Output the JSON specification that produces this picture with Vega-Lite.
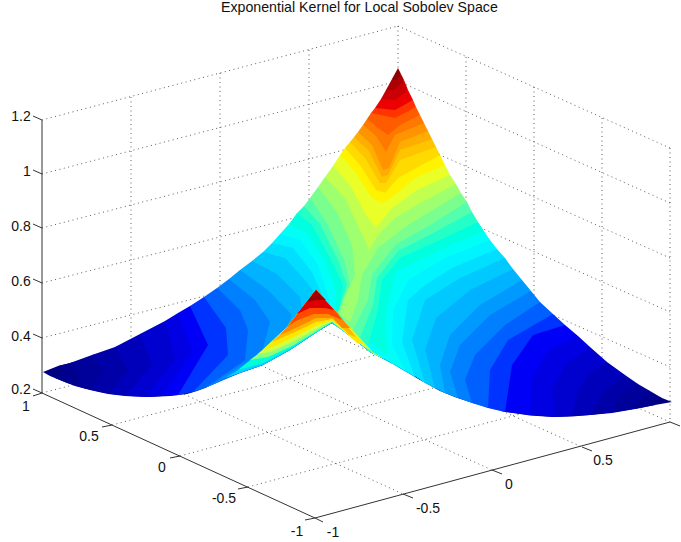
{"$schema":"https://vega.github.io/schema/vega-lite/v6.json","width":681,"height":542,"padding":0,"autosize":"none","background":"white","view":{"stroke":null},
"title":{"text":"Exponential Kernel for Local Sobolev Space","font":"Liberation Sans","fontSize":14.2,"fontWeight":"normal","color":"#111","anchor":"start","frame":"group","offset":-15,"dx":221},
"layer":[
{"data":{"values":[
{"x":42,"y":120,"x2":398,"y2":26},{"x":398,"y":26,"x2":670,"y2":148},
{"x":42,"y":174,"x2":398,"y2":81},{"x":398,"y":81,"x2":670,"y2":203},
{"x":42,"y":228,"x2":398,"y2":136},{"x":398,"y":136,"x2":670,"y2":258},
{"x":42,"y":283,"x2":398,"y2":191},{"x":398,"y":191,"x2":670,"y2":312},
{"x":42,"y":338,"x2":398,"y2":246},{"x":398,"y":246,"x2":670,"y2":367},
{"x":42,"y":393,"x2":398,"y2":301},{"x":398,"y":301,"x2":670,"y2":422},
{"x":131,"y":97,"x2":131,"y2":370},{"x":220,"y":73,"x2":220,"y2":347},{"x":309,"y":50,"x2":309,"y2":324},{"x":398,"y":26,"x2":398,"y2":301},
{"x":466,"y":57,"x2":466,"y2":331},{"x":534,"y":87,"x2":534,"y2":361},{"x":602,"y":118,"x2":602,"y2":392},{"x":670,"y":148,"x2":670,"y2":422},
{"x":112,"y":425,"x2":466,"y2":331},{"x":180,"y":456,"x2":534,"y2":361},{"x":248,"y":487,"x2":602,"y2":392},
{"x":131,"y":370,"x2":403,"y2":494},{"x":220,"y":347,"x2":492,"y2":470},{"x":309,"y":324,"x2":582,"y2":447}
]},
"mark":{"type":"rule","stroke":"#333","strokeWidth":0.8,"strokeDash":[1,3.5]},
"encoding":{"x":{"field":"x","type":"quantitative","scale":{"domain":[0,681]},"axis":null},"y":{"field":"y","type":"quantitative","scale":{"domain":[542,0]},"axis":null},"x2":{"field":"x2"},"y2":{"field":"y2"}}},
{"data":{"values":[
{"p":"m00","i":0,"z":0.274,"x":58,"y":366},{"p":"m00","i":1,"z":0.274,"x":43,"y":372},{"p":"m00","i":2,"z":0.274,"x":50,"y":376},{"p":"m00","i":3,"z":0.274,"x":67,"y":383},{"p":"m00","i":4,"z":0.274,"x":83,"y":388},{"p":"m00","i":5,"z":0.274,"x":100,"y":392},{"p":"m00","i":6,"z":0.274,"x":115,"y":394.5},{"p":"m00","i":7,"z":0.274,"x":130,"y":396},{"p":"m00","i":8,"z":0.274,"x":150,"y":397},{"p":"m00","i":9,"z":0.274,"x":170,"y":396},{"p":"m00","i":10,"z":0.274,"x":187,"y":394},{"p":"m00","i":11,"z":0.274,"x":197,"y":391},{"p":"m00","i":12,"z":0.274,"x":205,"y":388},{"p":"m00","i":13,"z":0.274,"x":220,"y":381},{"p":"m00","i":14,"z":0.274,"x":240,"y":373},{"p":"m00","i":15,"z":0.274,"x":263,"y":365},{"p":"m00","i":16,"z":0.274,"x":290,"y":350},{"p":"m00","i":17,"z":0.274,"x":320,"y":330},{"p":"m00","i":18,"z":0.274,"x":332,"y":322},{"p":"m00","i":19,"z":0.274,"x":350,"y":336},{"p":"m00","i":20,"z":0.274,"x":370,"y":352},{"p":"m00","i":21,"z":0.274,"x":397,"y":366},{"p":"m00","i":22,"z":0.274,"x":420,"y":380},{"p":"m00","i":23,"z":0.274,"x":440,"y":391},{"p":"m00","i":24,"z":0.274,"x":456,"y":397.5},{"p":"m00","i":25,"z":0.274,"x":473,"y":403},{"p":"m00","i":26,"z":0.274,"x":490,"y":408},{"p":"m00","i":27,"z":0.274,"x":507,"y":412},{"p":"m00","i":28,"z":0.274,"x":530,"y":415.5},{"p":"m00","i":29,"z":0.274,"x":553,"y":417},{"p":"m00","i":30,"z":0.274,"x":572,"y":416.5},{"p":"m00","i":31,"z":0.274,"x":590,"y":415},{"p":"m00","i":32,"z":0.274,"x":615,"y":412},{"p":"m00","i":33,"z":0.274,"x":640,"y":408},{"p":"m00","i":34,"z":0.274,"x":655,"y":405},{"p":"m00","i":35,"z":0.274,"x":672,"y":402},{"p":"m00","i":36,"z":0.274,"x":662,"y":398},{"p":"m00","i":37,"z":0.274,"x":335,"y":300},
{"p":"m01","i":0,"z":0.283,"x":70,"y":363},{"p":"m01","i":1,"z":0.283,"x":58,"y":366},{"p":"m01","i":2,"z":0.283,"x":64,"y":372},{"p":"m01","i":3,"z":0.283,"x":55,"y":378},{"p":"m01","i":4,"z":0.283,"x":75,"y":386},{"p":"m01","i":5,"z":0.283,"x":260,"y":362},{"p":"m01","i":6,"z":0.283,"x":332,"y":323},{"p":"m01","i":7,"z":0.283,"x":420,"y":379},{"p":"m01","i":8,"z":0.283,"x":635,"y":409},{"p":"m01","i":9,"z":0.283,"x":655,"y":405},{"p":"m01","i":10,"z":0.283,"x":650,"y":400},{"p":"m01","i":11,"z":0.283,"x":662,"y":398},{"p":"m01","i":12,"z":0.283,"x":650,"y":391},{"p":"m01","i":13,"z":0.283,"x":335,"y":300},
{"p":"m02","i":0,"z":0.294,"x":92,"y":355},{"p":"m02","i":1,"z":0.294,"x":70,"y":363},{"p":"m02","i":2,"z":0.294,"x":80,"y":375},{"p":"m02","i":3,"z":0.294,"x":75,"y":386},{"p":"m02","i":4,"z":0.294,"x":90,"y":390},{"p":"m02","i":5,"z":0.294,"x":260,"y":362},{"p":"m02","i":6,"z":0.294,"x":332,"y":323},{"p":"m02","i":7,"z":0.294,"x":420,"y":379},{"p":"m02","i":8,"z":0.294,"x":612,"y":413},{"p":"m02","i":9,"z":0.294,"x":635,"y":409},{"p":"m02","i":10,"z":0.294,"x":640,"y":400},{"p":"m02","i":11,"z":0.294,"x":650,"y":391},{"p":"m02","i":12,"z":0.294,"x":638,"y":384},{"p":"m02","i":13,"z":0.294,"x":335,"y":300},
{"p":"m03","i":0,"z":0.307,"x":115,"y":347},{"p":"m03","i":1,"z":0.307,"x":92,"y":355},{"p":"m03","i":2,"z":0.307,"x":104,"y":372},{"p":"m03","i":3,"z":0.307,"x":90,"y":390},{"p":"m03","i":4,"z":0.307,"x":108,"y":394},{"p":"m03","i":5,"z":0.307,"x":260,"y":362},{"p":"m03","i":6,"z":0.307,"x":332,"y":323},{"p":"m03","i":7,"z":0.307,"x":420,"y":379},{"p":"m03","i":8,"z":0.307,"x":590,"y":415},{"p":"m03","i":9,"z":0.307,"x":612,"y":413},{"p":"m03","i":10,"z":0.307,"x":620,"y":395},{"p":"m03","i":11,"z":0.307,"x":638,"y":384},{"p":"m03","i":12,"z":0.307,"x":625,"y":375},{"p":"m03","i":13,"z":0.307,"x":335,"y":300},
{"p":"m04","i":0,"z":0.322,"x":140,"y":334},{"p":"m04","i":1,"z":0.322,"x":115,"y":347},{"p":"m04","i":2,"z":0.322,"x":128,"y":370},{"p":"m04","i":3,"z":0.322,"x":108,"y":394},{"p":"m04","i":4,"z":0.322,"x":125,"y":396},{"p":"m04","i":5,"z":0.322,"x":260,"y":362},{"p":"m04","i":6,"z":0.322,"x":332,"y":323},{"p":"m04","i":7,"z":0.322,"x":420,"y":379},{"p":"m04","i":8,"z":0.322,"x":572,"y":416},{"p":"m04","i":9,"z":0.322,"x":590,"y":415},{"p":"m04","i":10,"z":0.322,"x":605,"y":390},{"p":"m04","i":11,"z":0.322,"x":625,"y":375},{"p":"m04","i":12,"z":0.322,"x":607,"y":362},{"p":"m04","i":13,"z":0.322,"x":335,"y":300},
{"p":"m05","i":0,"z":0.339,"x":165,"y":321},{"p":"m05","i":1,"z":0.339,"x":140,"y":334},{"p":"m05","i":2,"z":0.339,"x":152,"y":365},{"p":"m05","i":3,"z":0.339,"x":125,"y":396},{"p":"m05","i":4,"z":0.339,"x":145,"y":397},{"p":"m05","i":5,"z":0.339,"x":260,"y":362},{"p":"m05","i":6,"z":0.339,"x":332,"y":323},{"p":"m05","i":7,"z":0.339,"x":420,"y":379},{"p":"m05","i":8,"z":0.339,"x":555,"y":417},{"p":"m05","i":9,"z":0.339,"x":572,"y":416},{"p":"m05","i":10,"z":0.339,"x":578,"y":392},{"p":"m05","i":11,"z":0.339,"x":590,"y":372},{"p":"m05","i":12,"z":0.339,"x":607,"y":362},{"p":"m05","i":13,"z":0.339,"x":590,"y":347},{"p":"m05","i":14,"z":0.339,"x":335,"y":300},
{"p":"m06","i":0,"z":0.354,"x":178,"y":313},{"p":"m06","i":1,"z":0.354,"x":165,"y":321},{"p":"m06","i":2,"z":0.354,"x":175,"y":360},{"p":"m06","i":3,"z":0.354,"x":145,"y":397},{"p":"m06","i":4,"z":0.354,"x":162,"y":396},{"p":"m06","i":5,"z":0.354,"x":260,"y":362},{"p":"m06","i":6,"z":0.354,"x":332,"y":323},{"p":"m06","i":7,"z":0.354,"x":420,"y":379},{"p":"m06","i":8,"z":0.354,"x":530,"y":415},{"p":"m06","i":9,"z":0.354,"x":555,"y":417},{"p":"m06","i":10,"z":0.354,"x":552,"y":390},{"p":"m06","i":11,"z":0.354,"x":565,"y":365},{"p":"m06","i":12,"z":0.354,"x":590,"y":347},{"p":"m06","i":13,"z":0.354,"x":578,"y":336},{"p":"m06","i":14,"z":0.354,"x":335,"y":300},
{"p":"m07","i":0,"z":0.37,"x":190,"y":306},{"p":"m07","i":1,"z":0.37,"x":178,"y":313},{"p":"m07","i":2,"z":0.37,"x":192,"y":352},{"p":"m07","i":3,"z":0.37,"x":162,"y":396},{"p":"m07","i":4,"z":0.37,"x":178,"y":395},{"p":"m07","i":5,"z":0.37,"x":260,"y":362},{"p":"m07","i":6,"z":0.37,"x":332,"y":323},{"p":"m07","i":7,"z":0.37,"x":420,"y":379},{"p":"m07","i":8,"z":0.37,"x":505,"y":412},{"p":"m07","i":9,"z":0.37,"x":530,"y":415},{"p":"m07","i":10,"z":0.37,"x":532,"y":378},{"p":"m07","i":11,"z":0.37,"x":548,"y":350},{"p":"m07","i":12,"z":0.37,"x":578,"y":336},{"p":"m07","i":13,"z":0.37,"x":565,"y":325},
{"p":"m08","i":0,"z":0.391,"x":204,"y":297},{"p":"m08","i":1,"z":0.391,"x":190,"y":306},{"p":"m08","i":2,"z":0.391,"x":208,"y":345},{"p":"m08","i":3,"z":0.391,"x":178,"y":395},{"p":"m08","i":4,"z":0.391,"x":193,"y":392},{"p":"m08","i":5,"z":0.391,"x":260,"y":362},{"p":"m08","i":6,"z":0.391,"x":332,"y":323},{"p":"m08","i":7,"z":0.391,"x":420,"y":379},{"p":"m08","i":8,"z":0.391,"x":488,"y":408},{"p":"m08","i":9,"z":0.391,"x":505,"y":412},{"p":"m08","i":10,"z":0.391,"x":512,"y":365},{"p":"m08","i":11,"z":0.391,"x":533,"y":335},{"p":"m08","i":12,"z":0.391,"x":565,"y":325},{"p":"m08","i":13,"z":0.391,"x":553,"y":314},
{"p":"m09","i":0,"z":0.419,"x":217,"y":288},{"p":"m09","i":1,"z":0.419,"x":204,"y":297},{"p":"m09","i":2,"z":0.419,"x":226,"y":328},{"p":"m09","i":3,"z":0.419,"x":228,"y":355},{"p":"m09","i":4,"z":0.419,"x":193,"y":392},{"p":"m09","i":5,"z":0.419,"x":205,"y":388},{"p":"m09","i":6,"z":0.419,"x":260,"y":362},{"p":"m09","i":7,"z":0.419,"x":332,"y":323},{"p":"m09","i":8,"z":0.419,"x":420,"y":379},{"p":"m09","i":9,"z":0.419,"x":472,"y":403},{"p":"m09","i":10,"z":0.419,"x":488,"y":408},{"p":"m09","i":11,"z":0.419,"x":490,"y":370},{"p":"m09","i":12,"z":0.419,"x":508,"y":340},{"p":"m09","i":13,"z":0.419,"x":553,"y":314},{"p":"m09","i":14,"z":0.419,"x":540,"y":302},
{"p":"m10","i":0,"z":0.446,"x":229,"y":279},{"p":"m10","i":1,"z":0.446,"x":217,"y":288},{"p":"m10","i":2,"z":0.446,"x":240,"y":310},{"p":"m10","i":3,"z":0.446,"x":248,"y":330},{"p":"m10","i":4,"z":0.446,"x":245,"y":360},{"p":"m10","i":5,"z":0.446,"x":205,"y":388},{"p":"m10","i":6,"z":0.446,"x":212,"y":385},{"p":"m10","i":7,"z":0.446,"x":260,"y":362},{"p":"m10","i":8,"z":0.446,"x":332,"y":323},{"p":"m10","i":9,"z":0.446,"x":420,"y":379},{"p":"m10","i":10,"z":0.446,"x":458,"y":398},{"p":"m10","i":11,"z":0.446,"x":472,"y":403},{"p":"m10","i":12,"z":0.446,"x":465,"y":380},{"p":"m10","i":13,"z":0.446,"x":475,"y":355},{"p":"m10","i":14,"z":0.446,"x":505,"y":325},{"p":"m10","i":15,"z":0.446,"x":540,"y":302},{"p":"m10","i":16,"z":0.446,"x":531,"y":291},
{"p":"m11","i":0,"z":0.472,"x":240,"y":270},{"p":"m11","i":1,"z":0.472,"x":229,"y":279},{"p":"m11","i":2,"z":0.472,"x":255,"y":300},{"p":"m11","i":3,"z":0.472,"x":270,"y":322},{"p":"m11","i":4,"z":0.472,"x":262,"y":352},{"p":"m11","i":5,"z":0.472,"x":212,"y":385},{"p":"m11","i":6,"z":0.472,"x":220,"y":381},{"p":"m11","i":7,"z":0.472,"x":260,"y":362},{"p":"m11","i":8,"z":0.472,"x":332,"y":323},{"p":"m11","i":9,"z":0.472,"x":420,"y":379},{"p":"m11","i":10,"z":0.472,"x":445,"y":393},{"p":"m11","i":11,"z":0.472,"x":458,"y":398},{"p":"m11","i":12,"z":0.472,"x":450,"y":372},{"p":"m11","i":13,"z":0.472,"x":460,"y":345},{"p":"m11","i":14,"z":0.472,"x":490,"y":315},{"p":"m11","i":15,"z":0.472,"x":531,"y":291},{"p":"m11","i":16,"z":0.472,"x":522,"y":280},
{"p":"m12","i":0,"z":0.498,"x":252,"y":261},{"p":"m12","i":1,"z":0.498,"x":240,"y":270},{"p":"m12","i":2,"z":0.498,"x":268,"y":290},{"p":"m12","i":3,"z":0.498,"x":292,"y":315},{"p":"m12","i":4,"z":0.498,"x":280,"y":345},{"p":"m12","i":5,"z":0.498,"x":220,"y":381},{"p":"m12","i":6,"z":0.498,"x":228,"y":377},{"p":"m12","i":7,"z":0.498,"x":332,"y":323},{"p":"m12","i":8,"z":0.498,"x":420,"y":379},{"p":"m12","i":9,"z":0.498,"x":435,"y":388},{"p":"m12","i":10,"z":0.498,"x":445,"y":393},{"p":"m12","i":11,"z":0.498,"x":440,"y":365},{"p":"m12","i":12,"z":0.498,"x":450,"y":335},{"p":"m12","i":13,"z":0.498,"x":480,"y":305},{"p":"m12","i":14,"z":0.498,"x":522,"y":280},{"p":"m12","i":15,"z":0.498,"x":513,"y":269},
{"p":"m13","i":0,"z":0.524,"x":263,"y":252},{"p":"m13","i":1,"z":0.524,"x":252,"y":261},{"p":"m13","i":2,"z":0.524,"x":277,"y":274},{"p":"m13","i":3,"z":0.524,"x":300,"y":297},{"p":"m13","i":4,"z":0.524,"x":304,"y":325},{"p":"m13","i":5,"z":0.524,"x":228,"y":377},{"p":"m13","i":6,"z":0.524,"x":236,"y":374},{"p":"m13","i":7,"z":0.524,"x":332,"y":323},{"p":"m13","i":8,"z":0.524,"x":420,"y":379},{"p":"m13","i":9,"z":0.524,"x":425,"y":383},{"p":"m13","i":10,"z":0.524,"x":435,"y":388},{"p":"m13","i":11,"z":0.524,"x":425,"y":350},{"p":"m13","i":12,"z":0.524,"x":436,"y":318},{"p":"m13","i":13,"z":0.524,"x":470,"y":290},{"p":"m13","i":14,"z":0.524,"x":513,"y":269},{"p":"m13","i":15,"z":0.524,"x":505,"y":258},
{"p":"m14","i":0,"z":0.55,"x":272,"y":243},{"p":"m14","i":1,"z":0.55,"x":263,"y":252},{"p":"m14","i":2,"z":0.55,"x":285,"y":258},{"p":"m14","i":3,"z":0.55,"x":305,"y":280},{"p":"m14","i":4,"z":0.55,"x":316,"y":295},{"p":"m14","i":5,"z":0.55,"x":300,"y":340},{"p":"m14","i":6,"z":0.55,"x":332,"y":323},{"p":"m14","i":7,"z":0.55,"x":370,"y":351},{"p":"m14","i":8,"z":0.55,"x":415,"y":376},{"p":"m14","i":9,"z":0.55,"x":425,"y":383},{"p":"m14","i":10,"z":0.55,"x":412,"y":340},{"p":"m14","i":11,"z":0.55,"x":425,"y":300},{"p":"m14","i":12,"z":0.55,"x":460,"y":278},{"p":"m14","i":13,"z":0.55,"x":505,"y":258},{"p":"m14","i":14,"z":0.55,"x":497,"y":249},
{"p":"m15","i":0,"z":0.577,"x":280,"y":234},{"p":"m15","i":1,"z":0.577,"x":272,"y":243},{"p":"m15","i":2,"z":0.577,"x":293,"y":248},{"p":"m15","i":3,"z":0.577,"x":312,"y":272},{"p":"m15","i":4,"z":0.577,"x":322,"y":295},{"p":"m15","i":5,"z":0.577,"x":320,"y":328},{"p":"m15","i":6,"z":0.577,"x":332,"y":323},{"p":"m15","i":7,"z":0.577,"x":370,"y":351},{"p":"m15","i":8,"z":0.577,"x":405,"y":371},{"p":"m15","i":9,"z":0.577,"x":415,"y":377},{"p":"m15","i":10,"z":0.577,"x":402,"y":342},{"p":"m15","i":11,"z":0.577,"x":408,"y":300},{"p":"m15","i":12,"z":0.577,"x":425,"y":285},{"p":"m15","i":13,"z":0.577,"x":452,"y":268},{"p":"m15","i":14,"z":0.577,"x":497,"y":249},{"p":"m15","i":15,"z":0.577,"x":490,"y":240},
{"p":"m16","i":0,"z":0.607,"x":289,"y":224},{"p":"m16","i":1,"z":0.607,"x":280,"y":234},{"p":"m16","i":2,"z":0.607,"x":300,"y":240},{"p":"m16","i":3,"z":0.607,"x":318,"y":265},{"p":"m16","i":4,"z":0.607,"x":328,"y":295},{"p":"m16","i":5,"z":0.607,"x":332,"y":315},{"p":"m16","i":6,"z":0.607,"x":370,"y":350},{"p":"m16","i":7,"z":0.607,"x":405,"y":371},{"p":"m16","i":8,"z":0.607,"x":392,"y":345},{"p":"m16","i":9,"z":0.607,"x":393,"y":310},{"p":"m16","i":10,"z":0.607,"x":408,"y":280},{"p":"m16","i":11,"z":0.607,"x":445,"y":258},{"p":"m16","i":12,"z":0.607,"x":490,"y":240},{"p":"m16","i":13,"z":0.607,"x":484,"y":231},
{"p":"m17","i":0,"z":0.636,"x":297,"y":213},{"p":"m17","i":1,"z":0.636,"x":289,"y":224},{"p":"m17","i":2,"z":0.636,"x":307,"y":233},{"p":"m17","i":3,"z":0.636,"x":324,"y":260},{"p":"m17","i":4,"z":0.636,"x":336,"y":290},{"p":"m17","i":5,"z":0.636,"x":336,"y":315},{"p":"m17","i":6,"z":0.636,"x":387,"y":355},{"p":"m17","i":7,"z":0.636,"x":385,"y":315},{"p":"m17","i":8,"z":0.636,"x":396,"y":272},{"p":"m17","i":9,"z":0.636,"x":442,"y":249},{"p":"m17","i":10,"z":0.636,"x":484,"y":231},{"p":"m17","i":11,"z":0.636,"x":478,"y":222},
{"p":"m18","i":0,"z":0.661,"x":304,"y":206},{"p":"m18","i":1,"z":0.661,"x":297,"y":213},{"p":"m18","i":2,"z":0.661,"x":312,"y":225},{"p":"m18","i":3,"z":0.661,"x":330,"y":258},{"p":"m18","i":4,"z":0.661,"x":343,"y":285},{"p":"m18","i":5,"z":0.661,"x":340,"y":305},{"p":"m18","i":6,"z":0.661,"x":345,"y":322},{"p":"m18","i":7,"z":0.661,"x":368,"y":345},{"p":"m18","i":8,"z":0.661,"x":378,"y":310},{"p":"m18","i":9,"z":0.661,"x":382,"y":280},{"p":"m18","i":10,"z":0.661,"x":400,"y":258},{"p":"m18","i":11,"z":0.661,"x":440,"y":240},{"p":"m18","i":12,"z":0.661,"x":478,"y":222},{"p":"m18","i":13,"z":0.661,"x":472,"y":212},
{"p":"m19","i":0,"z":0.687,"x":310,"y":198},{"p":"m19","i":1,"z":0.687,"x":304,"y":206},{"p":"m19","i":2,"z":0.687,"x":320,"y":224},{"p":"m19","i":3,"z":0.687,"x":338,"y":260},{"p":"m19","i":4,"z":0.687,"x":347,"y":285},{"p":"m19","i":5,"z":0.687,"x":338,"y":312},{"p":"m19","i":6,"z":0.687,"x":360,"y":338},{"p":"m19","i":7,"z":0.687,"x":373,"y":305},{"p":"m19","i":8,"z":0.687,"x":377,"y":278},{"p":"m19","i":9,"z":0.687,"x":398,"y":251},{"p":"m19","i":10,"z":0.687,"x":435,"y":232},{"p":"m19","i":11,"z":0.687,"x":472,"y":212},{"p":"m19","i":12,"z":0.687,"x":467,"y":202},
{"p":"m20","i":0,"z":0.713,"x":318,"y":187},{"p":"m20","i":1,"z":0.713,"x":310,"y":198},{"p":"m20","i":2,"z":0.713,"x":328,"y":225},{"p":"m20","i":3,"z":0.713,"x":345,"y":262},{"p":"m20","i":4,"z":0.713,"x":350,"y":285},{"p":"m20","i":5,"z":0.713,"x":338,"y":312},{"p":"m20","i":6,"z":0.713,"x":352,"y":332},{"p":"m20","i":7,"z":0.713,"x":368,"y":300},{"p":"m20","i":8,"z":0.713,"x":372,"y":275},{"p":"m20","i":9,"z":0.713,"x":395,"y":245},{"p":"m20","i":10,"z":0.713,"x":430,"y":225},{"p":"m20","i":11,"z":0.713,"x":467,"y":202},{"p":"m20","i":12,"z":0.713,"x":461,"y":193},
{"p":"m21","i":0,"z":0.739,"x":325,"y":177},{"p":"m21","i":1,"z":0.739,"x":318,"y":187},{"p":"m21","i":2,"z":0.739,"x":337,"y":212},{"p":"m21","i":3,"z":0.739,"x":352,"y":245},{"p":"m21","i":4,"z":0.739,"x":355,"y":275},{"p":"m21","i":5,"z":0.739,"x":344,"y":298},{"p":"m21","i":6,"z":0.739,"x":340,"y":315},{"p":"m21","i":7,"z":0.739,"x":350,"y":322},{"p":"m21","i":8,"z":0.739,"x":358,"y":300},{"p":"m21","i":9,"z":0.739,"x":362,"y":275},{"p":"m21","i":10,"z":0.739,"x":378,"y":248},{"p":"m21","i":11,"z":0.739,"x":408,"y":225},{"p":"m21","i":12,"z":0.739,"x":461,"y":193},{"p":"m21","i":13,"z":0.739,"x":456,"y":184},
{"p":"m22","i":0,"z":0.765,"x":333,"y":166},{"p":"m22","i":1,"z":0.765,"x":325,"y":177},{"p":"m22","i":2,"z":0.765,"x":345,"y":198},{"p":"m22","i":3,"z":0.765,"x":360,"y":230},{"p":"m22","i":4,"z":0.765,"x":369,"y":250},{"p":"m22","i":5,"z":0.765,"x":378,"y":235},{"p":"m22","i":6,"z":0.765,"x":395,"y":218},{"p":"m22","i":7,"z":0.765,"x":420,"y":203},{"p":"m22","i":8,"z":0.765,"x":456,"y":184},{"p":"m22","i":9,"z":0.765,"x":450,"y":175},
{"p":"m23","i":0,"z":0.792,"x":340,"y":155},{"p":"m23","i":1,"z":0.792,"x":333,"y":166},{"p":"m23","i":2,"z":0.792,"x":350,"y":185},{"p":"m23","i":3,"z":0.792,"x":366,"y":215},{"p":"m23","i":4,"z":0.792,"x":376,"y":228},{"p":"m23","i":5,"z":0.792,"x":392,"y":208},{"p":"m23","i":6,"z":0.792,"x":417,"y":190},{"p":"m23","i":7,"z":0.792,"x":450,"y":175},{"p":"m23","i":8,"z":0.792,"x":445,"y":165},
{"p":"m24","i":0,"z":0.822,"x":345,"y":148},{"p":"m24","i":1,"z":0.822,"x":340,"y":155},{"p":"m24","i":2,"z":0.822,"x":355,"y":172},{"p":"m24","i":3,"z":0.822,"x":372,"y":198},{"p":"m24","i":4,"z":0.822,"x":383,"y":203},{"p":"m24","i":5,"z":0.822,"x":395,"y":195},{"p":"m24","i":6,"z":0.822,"x":415,"y":178},{"p":"m24","i":7,"z":0.822,"x":445,"y":165},{"p":"m24","i":8,"z":0.822,"x":440,"y":155},
{"p":"m25","i":0,"z":0.851,"x":350,"y":142},{"p":"m25","i":1,"z":0.851,"x":345,"y":148},{"p":"m25","i":2,"z":0.851,"x":360,"y":165},{"p":"m25","i":3,"z":0.851,"x":376,"y":190},{"p":"m25","i":4,"z":0.851,"x":385,"y":193},{"p":"m25","i":5,"z":0.851,"x":398,"y":178},{"p":"m25","i":6,"z":0.851,"x":440,"y":155},{"p":"m25","i":7,"z":0.851,"x":436,"y":147},
{"p":"m26","i":0,"z":0.876,"x":354,"y":137},{"p":"m26","i":1,"z":0.876,"x":350,"y":142},{"p":"m26","i":2,"z":0.876,"x":365,"y":158},{"p":"m26","i":3,"z":0.876,"x":380,"y":183},{"p":"m26","i":4,"z":0.876,"x":386,"y":183},{"p":"m26","i":5,"z":0.876,"x":400,"y":160},{"p":"m26","i":6,"z":0.876,"x":436,"y":147},{"p":"m26","i":7,"z":0.876,"x":432,"y":139},
{"p":"m27","i":0,"z":0.902,"x":358,"y":132},{"p":"m27","i":1,"z":0.902,"x":354,"y":137},{"p":"m27","i":2,"z":0.902,"x":369,"y":151},{"p":"m27","i":3,"z":0.902,"x":382,"y":177},{"p":"m27","i":4,"z":0.902,"x":388,"y":175},{"p":"m27","i":5,"z":0.902,"x":400,"y":150},{"p":"m27","i":6,"z":0.902,"x":432,"y":139},{"p":"m27","i":7,"z":0.902,"x":428,"y":131},
{"p":"m28","i":0,"z":0.928,"x":363,"y":125},{"p":"m28","i":1,"z":0.928,"x":358,"y":132},{"p":"m28","i":2,"z":0.928,"x":372,"y":145},{"p":"m28","i":3,"z":0.928,"x":383,"y":170},{"p":"m28","i":4,"z":0.928,"x":389,"y":168},{"p":"m28","i":5,"z":0.928,"x":400,"y":142},{"p":"m28","i":6,"z":0.928,"x":428,"y":131},{"p":"m28","i":7,"z":0.928,"x":424,"y":123},
{"p":"m29","i":0,"z":0.954,"x":367,"y":119},{"p":"m29","i":1,"z":0.954,"x":363,"y":125},{"p":"m29","i":2,"z":0.954,"x":376,"y":136},{"p":"m29","i":3,"z":0.954,"x":386,"y":152},{"p":"m29","i":4,"z":0.954,"x":395,"y":135},{"p":"m29","i":5,"z":0.954,"x":424,"y":123},{"p":"m29","i":6,"z":0.954,"x":420,"y":115},
{"p":"m30","i":0,"z":0.98,"x":371,"y":113},{"p":"m30","i":1,"z":0.98,"x":367,"y":119},{"p":"m30","i":2,"z":0.98,"x":378,"y":128},{"p":"m30","i":3,"z":0.98,"x":388,"y":135},{"p":"m30","i":4,"z":0.98,"x":400,"y":125},{"p":"m30","i":5,"z":0.98,"x":420,"y":115},{"p":"m30","i":6,"z":0.98,"x":416,"y":107},
{"p":"m31","i":0,"z":1.007,"x":375,"y":108},{"p":"m31","i":1,"z":1.007,"x":371,"y":113},{"p":"m31","i":2,"z":1.007,"x":395,"y":118},{"p":"m31","i":3,"z":1.007,"x":416,"y":107},{"p":"m31","i":4,"z":1.007,"x":413,"y":100},
{"p":"m32","i":0,"z":1.037,"x":381,"y":99},{"p":"m32","i":1,"z":1.037,"x":375,"y":108},{"p":"m32","i":2,"z":1.037,"x":395,"y":110},{"p":"m32","i":3,"z":1.037,"x":413,"y":100},{"p":"m32","i":4,"z":1.037,"x":408,"y":90},
{"p":"m33","i":0,"z":1.066,"x":386,"y":90},{"p":"m33","i":1,"z":1.066,"x":381,"y":99},{"p":"m33","i":2,"z":1.066,"x":395,"y":100},{"p":"m33","i":3,"z":1.066,"x":408,"y":90},{"p":"m33","i":4,"z":1.066,"x":404,"y":80},
{"p":"m34","i":0,"z":1.091,"x":392,"y":79},{"p":"m34","i":1,"z":1.091,"x":386,"y":90},{"p":"m34","i":2,"z":1.091,"x":395,"y":90},{"p":"m34","i":3,"z":1.091,"x":404,"y":80},{"p":"m34","i":4,"z":1.091,"x":401,"y":74},
{"p":"m35","i":0,"z":1.117,"x":398,"y":68},{"p":"m35","i":1,"z":1.117,"x":392,"y":79},{"p":"m35","i":2,"z":1.117,"x":397,"y":80},{"p":"m35","i":3,"z":1.117,"x":401,"y":74},
{"p":"s01","i":0,"z":0.433,"x":212,"y":385},{"p":"s01","i":1,"z":0.433,"x":240,"y":369},{"p":"s01","i":2,"z":0.433,"x":263,"y":350},{"p":"s01","i":3,"z":0.433,"x":287,"y":327},{"p":"s01","i":4,"z":0.433,"x":316,"y":290},{"p":"s01","i":5,"z":0.433,"x":337,"y":313},{"p":"s01","i":6,"z":0.433,"x":370,"y":350},{"p":"s01","i":7,"z":0.433,"x":403,"y":370},{"p":"s01","i":8,"z":0.433,"x":420,"y":380},{"p":"s01","i":9,"z":0.433,"x":397,"y":366},{"p":"s01","i":10,"z":0.433,"x":370,"y":352},{"p":"s01","i":11,"z":0.433,"x":350,"y":336},{"p":"s01","i":12,"z":0.433,"x":332,"y":322},{"p":"s01","i":13,"z":0.433,"x":320,"y":330},{"p":"s01","i":14,"z":0.433,"x":290,"y":350},{"p":"s01","i":15,"z":0.433,"x":263,"y":365},{"p":"s01","i":16,"z":0.433,"x":240,"y":373},
{"p":"s02","i":0,"z":0.537,"x":225,"y":378},{"p":"s02","i":1,"z":0.537,"x":240,"y":369},{"p":"s02","i":2,"z":0.537,"x":263,"y":350},{"p":"s02","i":3,"z":0.537,"x":287,"y":327},{"p":"s02","i":4,"z":0.537,"x":316,"y":290},{"p":"s02","i":5,"z":0.537,"x":337,"y":313},{"p":"s02","i":6,"z":0.537,"x":370,"y":350},{"p":"s02","i":7,"z":0.537,"x":403,"y":370},{"p":"s02","i":8,"z":0.537,"x":410,"y":375},{"p":"s02","i":9,"z":0.537,"x":397,"y":366},{"p":"s02","i":10,"z":0.537,"x":370,"y":352},{"p":"s02","i":11,"z":0.537,"x":350,"y":336},{"p":"s02","i":12,"z":0.537,"x":332,"y":322},{"p":"s02","i":13,"z":0.537,"x":320,"y":330},{"p":"s02","i":14,"z":0.537,"x":290,"y":350},{"p":"s02","i":15,"z":0.537,"x":263,"y":365},{"p":"s02","i":16,"z":0.537,"x":245,"y":371},
{"p":"s03","i":0,"z":0.644,"x":238,"y":370},{"p":"s03","i":1,"z":0.644,"x":263,"y":350},{"p":"s03","i":2,"z":0.644,"x":287,"y":327},{"p":"s03","i":3,"z":0.644,"x":316,"y":290},{"p":"s03","i":4,"z":0.644,"x":337,"y":313},{"p":"s03","i":5,"z":0.644,"x":370,"y":350},{"p":"s03","i":6,"z":0.644,"x":400,"y":368},{"p":"s03","i":7,"z":0.644,"x":392,"y":363},{"p":"s03","i":8,"z":0.644,"x":370,"y":352},{"p":"s03","i":9,"z":0.644,"x":350,"y":336},{"p":"s03","i":10,"z":0.644,"x":332,"y":322},{"p":"s03","i":11,"z":0.644,"x":320,"y":330},{"p":"s03","i":12,"z":0.644,"x":290,"y":349},{"p":"s03","i":13,"z":0.644,"x":263,"y":363},
{"p":"s04","i":0,"z":0.726,"x":250,"y":360},{"p":"s04","i":1,"z":0.726,"x":263,"y":350},{"p":"s04","i":2,"z":0.726,"x":287,"y":327},{"p":"s04","i":3,"z":0.726,"x":316,"y":290},{"p":"s04","i":4,"z":0.726,"x":337,"y":313},{"p":"s04","i":5,"z":0.726,"x":370,"y":350},{"p":"s04","i":6,"z":0.726,"x":385,"y":359},{"p":"s04","i":7,"z":0.726,"x":375,"y":355},{"p":"s04","i":8,"z":0.726,"x":350,"y":336},{"p":"s04","i":9,"z":0.726,"x":332,"y":322},{"p":"s04","i":10,"z":0.726,"x":320,"y":329},{"p":"s04","i":11,"z":0.726,"x":292,"y":346},{"p":"s04","i":12,"z":0.726,"x":268,"y":357},
{"p":"s05","i":0,"z":0.777,"x":258,"y":354},{"p":"s05","i":1,"z":0.777,"x":287,"y":327},{"p":"s05","i":2,"z":0.777,"x":316,"y":290},{"p":"s05","i":3,"z":0.777,"x":337,"y":313},{"p":"s05","i":4,"z":0.777,"x":372,"y":351},{"p":"s05","i":5,"z":0.777,"x":362,"y":345},{"p":"s05","i":6,"z":0.777,"x":345,"y":332},{"p":"s05","i":7,"z":0.777,"x":332,"y":321},{"p":"s05","i":8,"z":0.777,"x":320,"y":327},{"p":"s05","i":9,"z":0.777,"x":292,"y":342},{"p":"s05","i":10,"z":0.777,"x":270,"y":352},
{"p":"s06","i":0,"z":0.835,"x":265,"y":349},{"p":"s06","i":1,"z":0.835,"x":287,"y":327},{"p":"s06","i":2,"z":0.835,"x":316,"y":290},{"p":"s06","i":3,"z":0.835,"x":337,"y":313},{"p":"s06","i":4,"z":0.835,"x":365,"y":345},{"p":"s06","i":5,"z":0.835,"x":357,"y":343},{"p":"s06","i":6,"z":0.835,"x":342,"y":329},{"p":"s06","i":7,"z":0.835,"x":332,"y":320},{"p":"s06","i":8,"z":0.835,"x":318,"y":325},{"p":"s06","i":9,"z":0.835,"x":292,"y":338},{"p":"s06","i":10,"z":0.835,"x":275,"y":346},
{"p":"s07","i":0,"z":0.889,"x":272,"y":342},{"p":"s07","i":1,"z":0.889,"x":287,"y":327},{"p":"s07","i":2,"z":0.889,"x":316,"y":290},{"p":"s07","i":3,"z":0.889,"x":337,"y":313},{"p":"s07","i":4,"z":0.889,"x":356,"y":337},{"p":"s07","i":5,"z":0.889,"x":350,"y":335},{"p":"s07","i":6,"z":0.889,"x":338,"y":324},{"p":"s07","i":7,"z":0.889,"x":332,"y":319},{"p":"s07","i":8,"z":0.889,"x":316,"y":322},{"p":"s07","i":9,"z":0.889,"x":295,"y":332},
{"p":"s08","i":0,"z":0.941,"x":280,"y":335},{"p":"s08","i":1,"z":0.941,"x":287,"y":327},{"p":"s08","i":2,"z":0.941,"x":316,"y":290},{"p":"s08","i":3,"z":0.941,"x":337,"y":313},{"p":"s08","i":4,"z":0.941,"x":350,"y":328},{"p":"s08","i":5,"z":0.941,"x":342,"y":328},{"p":"s08","i":6,"z":0.941,"x":333,"y":318},{"p":"s08","i":7,"z":0.941,"x":316,"y":318},{"p":"s08","i":8,"z":0.941,"x":298,"y":327},
{"p":"s09","i":0,"z":0.994,"x":288,"y":326},{"p":"s09","i":1,"z":0.994,"x":316,"y":290},{"p":"s09","i":2,"z":0.994,"x":337,"y":313},{"p":"s09","i":3,"z":0.994,"x":342,"y":320},{"p":"s09","i":4,"z":0.994,"x":335,"y":317},{"p":"s09","i":5,"z":0.994,"x":328,"y":314},{"p":"s09","i":6,"z":0.994,"x":314,"y":314},{"p":"s09","i":7,"z":0.994,"x":298,"y":320},
{"p":"s10","i":0,"z":1.05,"x":297,"y":314},{"p":"s10","i":1,"z":1.05,"x":316,"y":290},{"p":"s10","i":2,"z":1.05,"x":334,"y":310},{"p":"s10","i":3,"z":1.05,"x":325,"y":308},{"p":"s10","i":4,"z":1.05,"x":310,"y":308},
{"p":"s11","i":0,"z":1.104,"x":307,"y":302},{"p":"s11","i":1,"z":1.104,"x":316,"y":290},{"p":"s11","i":2,"z":1.104,"x":326,"y":300},{"p":"s11","i":3,"z":1.104,"x":316,"y":300}
]},
"mark":{"type":"line","interpolate":"linear-closed","strokeWidth":0},
"encoding":{"x":{"field":"x","type":"quantitative","scale":{"domain":[0,681]},"axis":null},"y":{"field":"y","type":"quantitative","scale":{"domain":[542,0]},"axis":null},"detail":{"field":"p","type":"nominal"},"order":{"field":"i","type":"quantitative"},"fill":{"field":"z","type":"quantitative","legend":null,"scale":{"domain":[0.27,0.3775,0.5925,0.8075,1.0225,1.13],"range":["#00007f","#0000ff","#00ffff","#ffff00","#ff0000","#7f0000"]}}}},
{"data":{"values":[
{"x":42,"y":120,"x2":42,"y2":393},{"x":42,"y":393,"x2":315,"y2":518},{"x":315,"y":518,"x2":670,"y2":422},
{"x":33,"y":116,"x2":42,"y2":120},{"x":33,"y":170,"x2":42,"y2":174},{"x":33,"y":224,"x2":42,"y2":228},{"x":33,"y":279,"x2":42,"y2":283},{"x":33,"y":334,"x2":42,"y2":338},{"x":33,"y":389,"x2":42,"y2":393},
{"x":33,"y":396,"x2":42,"y2":393},{"x":102,"y":427,"x2":112,"y2":425},{"x":170,"y":458,"x2":180,"y2":456},{"x":238,"y":489,"x2":248,"y2":487},{"x":305,"y":520,"x2":315,"y2":518},
{"x":315,"y":518,"x2":323,"y2":522},{"x":403,"y":494,"x2":413,"y2":498},{"x":492,"y":470,"x2":502,"y2":474},{"x":582,"y":447,"x2":592,"y2":451},{"x":670,"y":422,"x2":680,"y2":426}
]},
"mark":{"type":"rule","stroke":"#333","strokeWidth":1},
"encoding":{"x":{"field":"x","type":"quantitative","scale":{"domain":[0,681]},"axis":null},"y":{"field":"y","type":"quantitative","scale":{"domain":[542,0]},"axis":null},"x2":{"field":"x2"},"y2":{"field":"y2"}}},
{"data":{"values":[
{"t":"1.2","x":21,"y":117},{"t":"1","x":27,"y":172},{"t":"0.8","x":21,"y":227},{"t":"0.6","x":21,"y":282},{"t":"0.4","x":21,"y":337},{"t":"0.2","x":21,"y":390},
{"t":"1","x":26,"y":407},{"t":"0.5","x":89,"y":437},{"t":"0","x":162,"y":468},{"t":"-0.5","x":224,"y":499},{"t":"-1","x":297,"y":532},
{"t":"-1","x":333,"y":533},{"t":"-0.5","x":428,"y":509},{"t":"0","x":509,"y":485},{"t":"0.5","x":603,"y":461}
]},
"mark":{"type":"text","font":"Liberation Sans","fontSize":14,"color":"#111","align":"center","baseline":"middle"},
"encoding":{"x":{"field":"x","type":"quantitative","scale":{"domain":[0,681]},"axis":null},"y":{"field":"y","type":"quantitative","scale":{"domain":[542,0]},"axis":null},"text":{"field":"t","type":"nominal"}}}
],
"resolve":{"scale":{"fill":"independent"}}}
